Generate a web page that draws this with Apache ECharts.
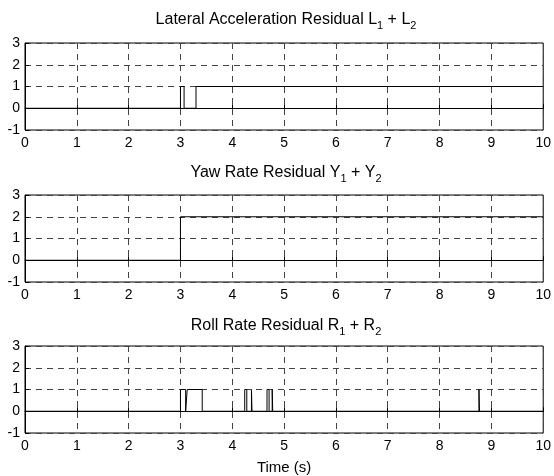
<!DOCTYPE html>
<html>
<head>
<meta charset="utf-8">
<script src="https://cdn.jsdelivr.net/npm/echarts@6/dist/echarts.min.js"></script>
<style>
  html, body { margin: 0; padding: 0; background: #fff; }
  #main { width: 554px; height: 476px; }
</style>
</head>
<body>
<div id="main"></div>
<script>
// step signals: value holds from time[i] until time[i+1]
var latTime = [0, 3.0, 3.07, 3.3, 10];
var latVal = [0, 1, 0, 1, 1];

var yawTime = [0, 3.0, 10];
var yawVal = [0, 2, 2];

var rollTime = [0, 3.0, 3.10, 3.13, 3.42, 4.24, 4.28, 4.37, 4.38, 4.67, 4.71, 4.77, 4.78, 8.76, 8.77, 10];
var rollVal = [0, 1, 0, 1, 0, 1, 0, 1, 0, 1, 0, 1, 0, 1, 0, 0];

var xTicks = [0, 1, 2, 3, 4, 5, 6, 7, 8, 9, 10];
var yTicks = [-1, 0, 1, 2, 3];

var titles = [
  ['Lateral Acceleration Residual L', ' + L'],
  ['Yaw Rate Residual Y', ' + Y'],
  ['Roll Rate Residual R', ' + R']
];

function pairs(t, v) {
  var out = [];
  for (var i = 0; i < t.length; i++) out.push([t[i], v[i]]);
  return out;
}

var font = 'Liberation Sans, Arial, sans-serif';
var gridTops = [43, 195, 346];
var titleTops = [7, 160, 313];

var myChart = echarts.init(document.getElementById('main'));

var grids = [], xAxes = [], yAxes = [], series = [], titleOpts = [];
var signals = [pairs(latTime, latVal), pairs(yawTime, yawVal), pairs(rollTime, rollVal)];

for (var k = 0; k < 3; k++) {
  grids.push({
    left: 25, top: gridTops[k], width: 519, height: 87,
    show: true, borderColor: '#000', borderWidth: 1, backgroundColor: '#fff'
  });
  xAxes.push({
    type: 'value', gridIndex: k, min: xTicks[0], max: xTicks[xTicks.length - 1], interval: 1,
    axisLine: { show: true, lineStyle: { color: '#000' } },
    axisTick: { show: true, inside: true, length: 4, lineStyle: { color: '#000' } },
    axisLabel: { color: '#000', fontSize: 14, fontFamily: font, margin: 6 },
    splitLine: { show: true, lineStyle: { color: '#444', type: [6, 5], width: 1 } },
    name: k === 2 ? 'Time (s)' : '',
    nameLocation: 'middle', nameGap: 27,
    nameTextStyle: { color: '#000', fontSize: 15, fontFamily: font }
  });
  yAxes.push({
    type: 'value', gridIndex: k, min: yTicks[0], max: yTicks[yTicks.length - 1], interval: 1,
    axisLine: { show: true, lineStyle: { color: '#000' } },
    axisTick: { show: true, inside: true, length: 4, lineStyle: { color: '#000' } },
    axisLabel: { color: '#000', fontSize: 14, fontFamily: font, margin: 5 },
    splitLine: { show: true, lineStyle: { color: '#444', type: [6, 5], width: 1 } }
  });
  series.push({
    type: 'line', xAxisIndex: k, yAxisIndex: k,
    data: signals[k], step: 'end', showSymbol: false, symbol: 'none',
    lineStyle: { color: '#000', width: 1 }, animation: false, z: 5
  });
  titleOpts.push({
    text: '{m|' + titles[k][0] + '}{s|1}{m|' + titles[k][1] + '}{s|2}',
    left: 281, top: titleTops[k], textAlign: 'center',
    textStyle: {
      rich: {
        m: { fontSize: 16, fontWeight: 'normal', fontFamily: font, color: '#000', lineHeight: 19, verticalAlign: 'top' },
        s: { fontSize: 11, fontWeight: 'normal', fontFamily: font, color: '#000', lineHeight: 19, padding: [8, 0, 0, 0], verticalAlign: 'top' }
      }
    }
  });
}

myChart.setOption({
  animation: false,
  title: titleOpts,
  grid: grids,
  xAxis: xAxes,
  yAxis: yAxes,
  series: series
});
</script>
</body>
</html>
